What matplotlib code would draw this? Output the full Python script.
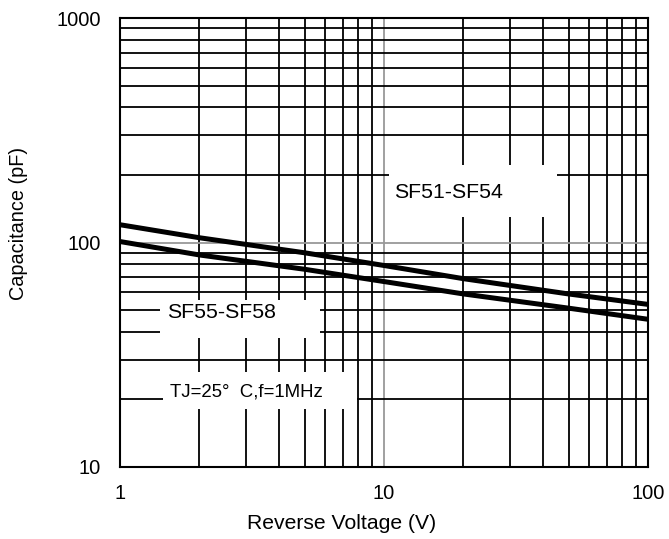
import matplotlib.pyplot as plt
from matplotlib.patches import Rectangle
from matplotlib.ticker import FixedLocator, NullFormatter

plt.rcParams['font.family'] = ['Liberation Sans', 'DejaVu Sans']

# reverse voltage (V)
voltaje = [1, 2, 5, 10, 20, 50, 100]
# capacitance (pF) for each group
cap_sf51_sf54 = [120, 105, 90, 79, 69, 59, 53]
cap_sf55_sf58 = [101, 88, 76, 67, 59, 51, 45.5]

x_ticks = [1, 10, 100]
y_ticks = [10, 100, 1000]

W, H = 669, 539
fig = plt.figure(figsize=(W / 100, H / 100), dpi=100)
ax = fig.add_axes([120 / W, 1 - 467 / H, 528 / W, 449 / H])

ax.set_xscale('log')
ax.set_yscale('log')
ax.set_xlim(1, 100)
ax.set_ylim(10, 1000)

# minor grid black, decade grid grey
ax.xaxis.set_minor_locator(FixedLocator([m * d for d in (1, 10) for m in range(2, 10)]))
ax.yaxis.set_minor_locator(FixedLocator([m * d for d in (10, 100) for m in range(2, 10)]))
ax.xaxis.set_minor_formatter(NullFormatter())
ax.yaxis.set_minor_formatter(NullFormatter())
ax.set_xticks(x_ticks)
ax.set_xticklabels([str(v) for v in x_ticks])
ax.set_yticks(y_ticks)
ax.set_yticklabels([str(v) for v in y_ticks])
ax.grid(True, which='minor', color='black', linewidth=1.3)
ax.grid(True, which='major', color='#999999', linewidth=1.3)
ax.tick_params(which='both', length=0, labelsize=14.5)
ax.tick_params(axis='y', pad=14)
ax.tick_params(axis='x', pad=12)
ax.set_axisbelow(True)
for s in ax.spines.values():
    s.set_linewidth(1.5)
    s.set_zorder(5)

ax.plot(voltaje, cap_sf51_sf54, color='black', linewidth=3.6, zorder=4, solid_capstyle='butt')
ax.plot(voltaje, cap_sf55_sf58, color='black', linewidth=3.6, zorder=4, solid_capstyle='butt')


# white label boxes (pixel boxes from the reference), text on top
def caja(x0, y0, x1, y1):
    r = Rectangle((x0 / W, 1 - y1 / H), (x1 - x0) / W, (y1 - y0) / H,
                  transform=fig.transFigure, facecolor='white', edgecolor='none', zorder=3)
    ax.add_patch(r)
    r.set_clip_on(False)


caja(389, 165, 557, 217)
caja(160, 300, 320, 338)
caja(163, 372, 357, 409)
ax.text(394 / W, 1 - 193 / H, 'SF51-SF54', transform=fig.transFigure, fontsize=15.3,
        ha='left', va='center', zorder=3.5)
ax.text(167 / W, 1 - 313 / H, 'SF55-SF58', transform=fig.transFigure, fontsize=15.3,
        ha='left', va='center', zorder=3.5)
ax.text(170 / W, 1 - 392 / H, 'TJ=25°  C,f=1MHz', transform=fig.transFigure, fontsize=13.4,
        ha='left', va='center', zorder=3.5)

ax.set_xlabel('Reverse Voltage (V)', fontsize=15.2, va='center')
ax.set_ylabel('Capacitance (pF)', fontsize=14.3, va='center')
ax.xaxis.set_label_coords(0.42, -0.125)
ax.yaxis.set_label_coords(-0.193, 0.542)

fig.savefig('out.png', dpi=100)
